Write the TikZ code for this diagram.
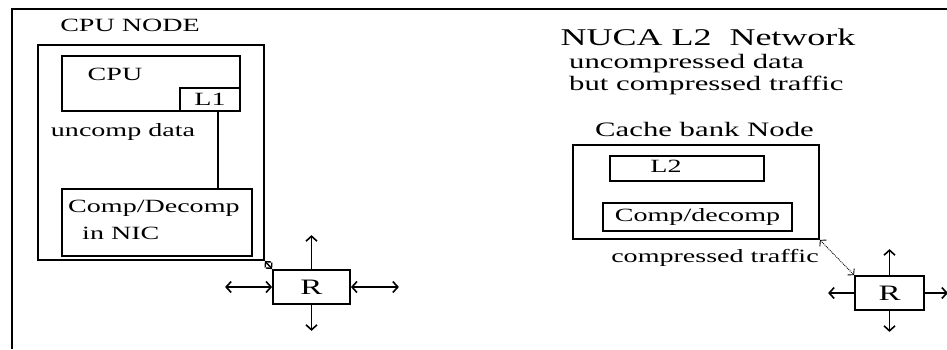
\documentclass[tikz,border=0pt]{standalone}
\usepackage{fontspec}
\setmainfont{Liberation Serif}
\usepackage{graphicx}
\usetikzlibrary{arrows.meta, positioning}
\newcommand{\stretched}[1]{\scalebox{1.5}[1]{#1}}

\begin{document}
\begin{tikzpicture}[x=1pt, y=-1pt,
  box/.style={draw, line width=1.8pt, inner sep=0pt},
  txt/.style={inner sep=0pt, font=\fontsize{18.7}{27}\selectfont},
  bigtxt/.style={inner sep=0pt, font=\fontsize{20.5}{22}\selectfont},
  titletxt/.style={inner sep=0pt, font=\fontsize{24}{28}\selectfont},
  rtxt/.style={inner sep=0pt, font=\fontsize{22}{26}\selectfont},
  arr/.style={line width=1.6pt, -{Straight Barb[length=5pt,width=11pt]}},
  dbl/.style={line width=1.6pt, {Straight Barb[length=5pt,width=11pt]}-{Straight Barb[length=5pt,width=11pt]}}
]
  \useasboundingbox (0,0) rectangle (947,349);
  \draw[line width=1.8pt] (12,349) -- (12,9) -- (947,9);

  \node[txt] (cpulabel) at (130,25) {\stretched{CPU NODE}};
  \node[box, minimum width=226pt, minimum height=215pt] (cpunode) at (151,152.5) {};
  \node[box, minimum width=178pt, minimum height=55pt] (cpu) at (151,83.5) {};
  \node[txt] (cputxt) at (115,74) {\stretched{CPU}};
  \node[box, txt, minimum width=60pt, minimum height=23pt] (l1) at (210,99.5) {\stretched{L1}};
  \node[txt] (uncomp) at (123,132) {\stretched{uncomp data}};
  \node[box, minimum width=190pt, minimum height=67pt] (nic) at (157,222.5) {};
  \node[txt, anchor=west] (nictxt) at (68,221) {\stretched{\begin{tabular}{@{}l@{}}Comp/Decomp\\\hspace*{0.5em}in NIC\end{tabular}}};
  \coordinate (tap) at (218,111);
  \draw[line width=1.8pt] (tap) -- (tap |- nic.north);

  \node[box, rtxt, minimum width=77pt, minimum height=34pt] (rleft) at (311.5,287) {\stretched{R}};
  \draw[arr] (rleft.north) -- ++(0,-34);
  \draw[arr] (rleft.south) -- ++(0,26);
  \draw[dbl] (rleft.west) -- ++(-47,0);
  \draw[dbl] (rleft.east) -- ++(48,0);
  \draw[line width=1.4pt, {Straight Barb[length=4pt,width=8pt]}-{Straight Barb[length=4pt,width=8pt]}] (cpunode.south east) -- (rleft.north west);

  \node[titletxt] (nuca) at (708,37) {\stretched{NUCA L2\ \ Network}};
  \node[bigtxt, anchor=west] (traffic) at (569,75) {\stretched{\begin{tabular}{@{}l@{}}uncompressed data\\but compressed traffic\end{tabular}}};
  \node[bigtxt] (banklabel) at (704.5,129) {\stretched{Cache bank Node}};
  \node[box, minimum width=246pt, minimum height=94pt] (bank) at (696,192) {};
  \node[box, minimum width=154pt, minimum height=25pt] (l2) at (687,168.5) {};
  \node[txt] (l2txt) at (666,166) {\stretched{L2}};
  \node[box, txt, minimum width=189pt, minimum height=28pt] (codec) at (697.5,217) {\stretched{Comp/decomp}};
  \node[txt] (comptraffic) at (715,258) {\stretched{compressed traffic}};

  \node[box, rtxt, minimum width=69pt, minimum height=34pt] (rright) at (889.5,293) {\stretched{R}};
  \draw[arr] (rright.north) -- ++(0,-26);
  \draw[arr] (rright.south) -- ++(0,21);
  \draw[arr] (rright.west) -- ++(-26,0);
  \draw[arr] (rright.east) -- ++(23,0);
  \draw[line width=0.9pt, densely dotted, {Straight Barb[length=4pt,width=9pt]}-{Straight Barb[length=4pt,width=9pt]}] (bank.south east) -- (rright.north west);
\end{tikzpicture}
\end{document}
